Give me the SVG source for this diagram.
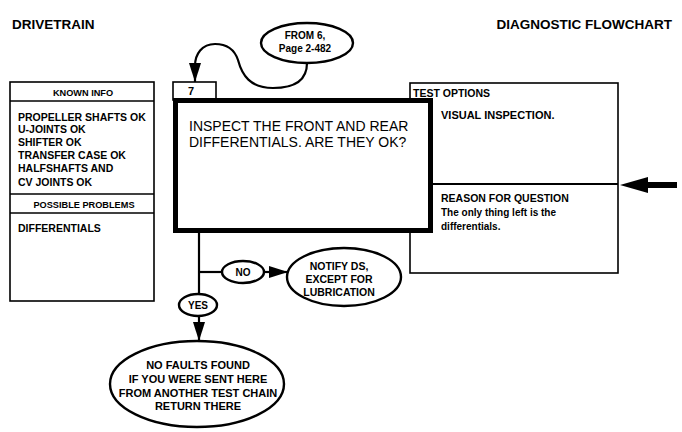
<svg xmlns="http://www.w3.org/2000/svg" width="682" height="432" viewBox="0 0 682 432">
<style>
text{font-family:"Liberation Sans",Arial,sans-serif;fill:#000;font-weight:bold}
.box{fill:#fff;stroke:#000;stroke-width:1.6}
.oval{fill:#fff;stroke:#000;stroke-width:2.4}
.con{fill:none;stroke:#000;stroke-width:2.2}
.t13{font-size:13.5px}
.t10{font-size:10px}
.t105{font-size:10.5px}
.t11{font-size:11px}
.h9{font-size:9.2px}
.main{font-size:14px;font-weight:normal}
.mid{text-anchor:middle}
</style>
<defs>
<marker id="ah" markerUnits="userSpaceOnUse" markerWidth="20" markerHeight="12" refX="19" refY="6" orient="auto">
<path d="M0,0 L19,6 L0,12 z" fill="#000"/>
</marker>
</defs>
<g id="title">
<text class="t13" x="12" y="29">DRIVETRAIN</text>
<text class="t13" x="672" y="29" text-anchor="end">DIAGNOSTIC FLOWCHART</text>
</g>
<g id="known-info">
<rect class="box" x="10" y="82" width="144" height="219"/>
<line x1="10" y1="101" x2="154" y2="101" stroke="#000" stroke-width="1.6"/>
<line x1="10" y1="194" x2="154" y2="194" stroke="#000" stroke-width="1.6"/>
<line x1="10" y1="213" x2="154" y2="213" stroke="#000" stroke-width="1.6"/>
<text class="h9 mid" x="83" y="96">KNOWN INFO</text>
<text class="t105" x="18" y="121">PROPELLER SHAFTS OK</text>
<text class="t105" x="18" y="133">U-JOINTS OK</text>
<text class="t105" x="18" y="146">SHIFTER OK</text>
<text class="t105" x="18" y="159">TRANSFER CASE OK</text>
<text class="t105" x="18" y="172">HALFSHAFTS AND</text>
<text class="t105" x="18" y="186">CV JOINTS OK</text>
<text class="h9 mid" x="84" y="208">POSSIBLE PROBLEMS</text>
<text class="t105" x="18" y="232">DIFFERENTIALS</text>
</g>
<g id="test-options">
<rect class="box" x="410" y="83" width="208" height="190"/>
<line x1="430" y1="184" x2="618" y2="184" stroke="#000" stroke-width="2"/>
<text class="t105" x="413" y="97">TEST OPTIONS</text>
<text class="t11" x="441" y="119">VISUAL INSPECTION.</text>
<text class="t105" x="441" y="202">REASON FOR QUESTION</text>
<text class="t10" x="441" y="216">The only thing left is the</text>
<text class="t10" x="441" y="230">differentials.</text>
</g>
<g id="step7">
<rect class="box" x="173" y="82" width="43" height="18"/>
<text class="t11" x="188" y="95">7</text>
<rect x="175.5" y="100.5" width="255" height="130" fill="#fff" stroke="#000" stroke-width="5"/>
<text class="main" x="189" y="131">INSPECT THE FRONT AND REAR</text>
<text class="main" x="189" y="147">DIFFERENTIALS. ARE THEY OK?</text>
</g>
<g id="from6">
<ellipse class="oval" cx="307" cy="43" rx="46" ry="20"/>
<text class="t10 mid" x="305" y="39">FROM 6,</text>
<text class="t10 mid" x="305" y="52">Page 2-482</text>
</g>
<g id="no-label">
<ellipse class="oval" cx="243" cy="272" rx="21" ry="11"/>
<text class="t10 mid" x="243" y="276">NO</text>
</g>
<g id="yes-label">
<ellipse class="oval" cx="198" cy="305" rx="19" ry="11"/>
<text class="t10 mid" x="198" y="309">YES</text>
</g>
<g id="notify">
<ellipse class="oval" cx="344" cy="277" rx="57" ry="29"/>
<text class="t105 mid" x="339" y="270">NOTIFY DS,</text>
<text class="t105 mid" x="339" y="283">EXCEPT FOR</text>
<text class="t105 mid" x="339" y="296">LUBRICATION</text>
</g>
<g id="no-faults">
<ellipse class="oval" cx="197" cy="384" rx="87" ry="43"/>
<text class="t11 mid" x="198" y="369">NO FAULTS FOUND</text>
<text class="t11 mid" x="198" y="383">IF YOU WERE SENT HERE</text>
<text class="t11 mid" x="198" y="397">FROM ANOTHER TEST CHAIN</text>
<text class="t11 mid" x="198" y="410">RETURN THERE</text>
</g>
<g id="connectors">
<path class="con" d="M307 63 C307 80,295 88,273 88 C250 88,242 75,238 60 C234 48,226 44,215 44 C202 44,195 54,195 66 L195 82" marker-end="url(#ah)"/>
<line class="con" x1="199" y1="232" x2="199" y2="294"/>
<line class="con" x1="199" y1="316" x2="199" y2="341" marker-end="url(#ah)"/>
<line class="con" x1="199" y1="272" x2="222" y2="272"/>
<line class="con" x1="264" y1="272" x2="288" y2="272" marker-end="url(#ah)"/>
<polygon points="620,185 648,177 648,193" fill="#000"/>
<rect x="647" y="182" width="30" height="6" fill="#000"/>
</g>
</svg>
